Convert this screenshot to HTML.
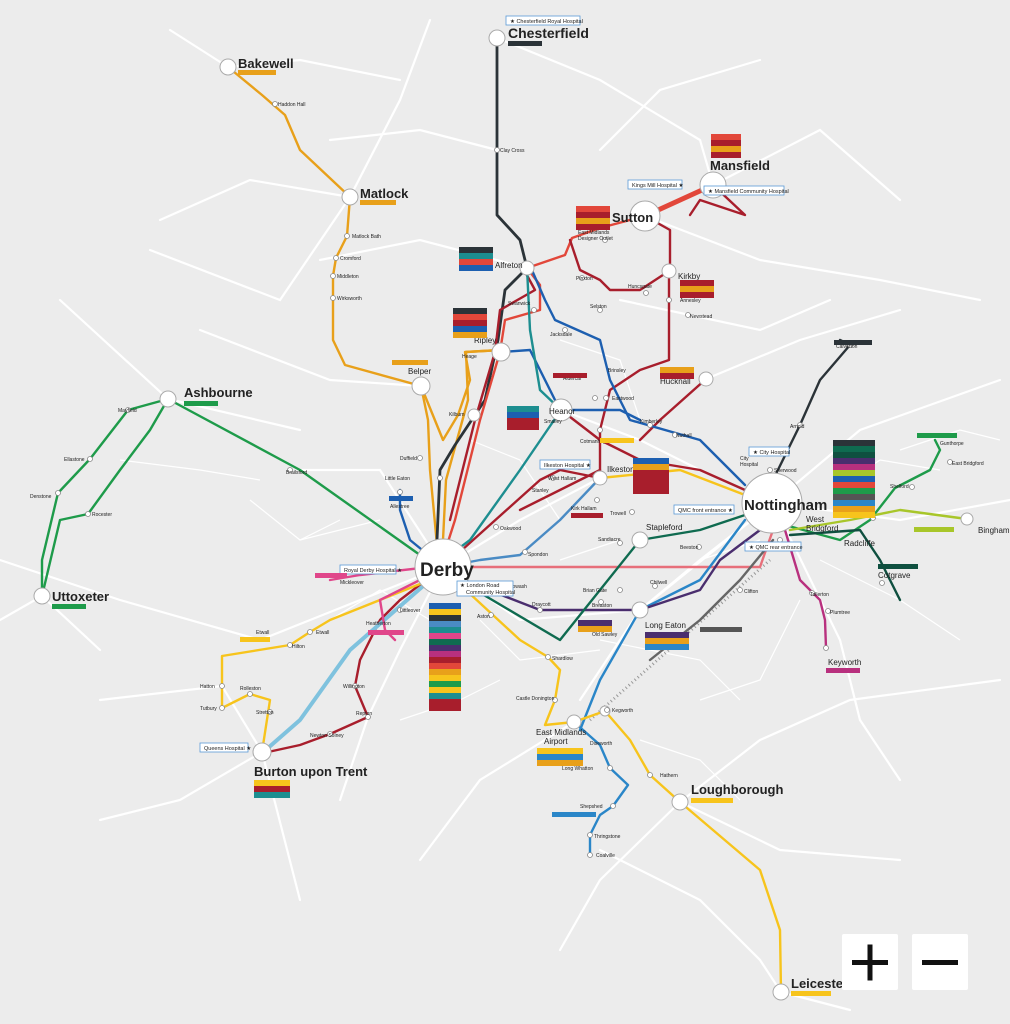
<!DOCTYPE html>
<html><head><meta charset="utf-8"><style>
html,body{margin:0;padding:0;background:#ececec;}
svg{display:block}
text{font-family:"Liberation Sans",sans-serif;fill:#222}
.s{font-size:5px;fill:#333}
.b{font-weight:bold;fill:#222}
</style></head><body>
<svg width="1010" height="1024" viewBox="0 0 1010 1024" xmlns="http://www.w3.org/2000/svg">
<rect width="1010" height="1024" fill="#ececec"/>
<!-- roads -->
<g stroke="#fff" stroke-width="2.2" fill="none" stroke-linecap="round">
<path d="M0 560 L120 600 L260 640 L443 567"/>
<path d="M60 300 L168 399 L300 430"/>
<path d="M100 700 L222 686 L262 752 L300 900"/>
<path d="M150 250 L280 300 L350 197 L400 100 L430 20"/>
<path d="M228 67 L170 30 M228 67 L300 60 L400 80"/>
<path d="M497 38 L600 80 L700 140 L713 185 L820 130 L900 200"/>
<path d="M350 197 L250 180 L160 220"/>
<path d="M421 386 L330 380 L200 330"/>
<path d="M443 567 L380 470 L300 470 L168 399"/>
<path d="M443 567 L520 620 L640 610 L773 503"/>
<path d="M773 503 L860 430 L1000 380"/>
<path d="M773 503 L900 520 L1010 500"/>
<path d="M773 503 L840 640 L860 720 L900 780"/>
<path d="M680 802 L760 740 L850 700 L1000 680"/>
<path d="M680 802 L600 880 L560 950"/>
<path d="M680 802 L780 850 L900 860"/>
<path d="M574 722 L480 780 L420 860"/>
<path d="M443 567 L400 650 L368 717 L340 800"/>
<path d="M645 216 L760 260 L880 280 L980 300"/>
<path d="M706 379 L800 340 L900 310"/>
<path d="M527 268 L420 240 L320 260"/>
<path d="M600 478 L520 520 L443 567"/>
<path d="M561 410 L640 440 L700 470"/>
<path d="M773 503 L700 560 L640 610 L580 700"/>
<path d="M262 752 L180 800 L100 820"/>
<path d="M42 596 L0 620 M42 596 L100 650"/>
<path d="M600 850 L700 900 L760 960 L781 992 L850 1010"/>
<path d="M620 300 L760 330 L830 300"/>
<path d="M497 150 L420 130 L330 140"/>
<path d="M600 150 L660 90 L760 60"/>
</g>
<g stroke="#fff" stroke-width="1.2" fill="none">
<path d="M820 560 L900 600 L960 640 M800 600 L760 680 L700 700 M900 450 L960 430 L1000 440 M850 480 L880 460 L940 470"/>
<path d="M330 620 L380 590 L430 620 M300 540 L380 520 M480 620 L520 660 L600 650 M600 640 L700 660 L740 700"/>
<path d="M560 340 L620 360 L640 420 M470 440 L520 460 L560 520 M700 560 L760 540 M400 720 L460 700 L500 680"/>
<path d="M250 500 L300 540 L340 520 M120 460 L200 470 L260 480 M560 560 L620 540 M640 740 L700 760 L740 800"/>
</g>
<!-- rail -->
<path d="M590 720 L770 560" stroke="#999" stroke-width="3" fill="none" stroke-dasharray="1 3"/>
<!-- routes -->
<g fill="none" stroke-width="2.4" stroke-linejoin="round" stroke-linecap="round">
<!-- orange Bakewell-Matlock-Belper-Derby -->
<path d="M228 67 L262 95 L285 115 L300 150 L350 197 L347 236 L336 258 L333 276 L333 298 L333 340 L345 365 L421 386" stroke="#e8a01a"/>
<path d="M421 386 L428 420 L430 470 L437 545" stroke="#e8a01a"/>
<path d="M443 540 L446 480 L457 440 L468 400 L466 352 L501 350" stroke="#e8a01a"/>
<path d="M501 350 L465 352 L470 380 L458 415 L443 440 L421 386" stroke="#e8a01a"/>
<!-- green Uttoxeter-Ashbourne-Derby -->
<path d="M42 596 L42 560 L58 493 L90 459 L128 410 L168 399" stroke="#1e9b4a"/>
<path d="M42 596 L60 520 L88 514 L120 470 L150 430 L168 399" stroke="#1e9b4a"/>
<path d="M168 399 L300 470 L420 555" stroke="#1e9b4a"/>
<!-- dark Chesterfield -->
<path d="M497 38 L497 215 L520 240 L527 268 L505 290 L498 340 L485 400 L455 445 L440 470 L437 540" stroke="#2b3338" stroke-width="2.8"/>
<path d="M773 480 L800 425 L820 380 L850 345 L840 340" stroke="#2b3338"/>
<!-- red routes -->
<path d="M527 268 L565 255 L572 238 L600 228 L645 216" stroke="#e2473a"/>
<path d="M527 268 L540 285 L540 310 L505 320 L500 352 L480 420 L455 520 L447 545" stroke="#e2473a"/>
<path d="M523 268 L535 290 L500 310 L495 352 L475 420 L450 520" stroke="#a81e2c"/>
<path d="M645 216 L713 185" stroke="#e2473a" stroke-width="5"/>
<path d="M645 216 L670 230 L670 270 L669 271 L640 290 L610 290 L600 280 L580 270 L570 240" stroke="#a81e2c"/>
<path d="M669 271 L669 360 L640 370 L610 390 L600 430 L600 478" stroke="#a81e2c"/>
<path d="M713 185 L745 215 L700 200 L690 215" stroke="#a81e2c"/>
<path d="M443 567 L760 567 L773 530" stroke="#e76f7a"/>
<path d="M561 410 L600 440 L640 460 L700 470 L745 490" stroke="#a81e2c"/>
<path d="M706 379 L660 420 L640 440" stroke="#a81e2c"/>
<path d="M443 567 L400 600 L380 620 L360 660 L355 686 L368 717 L330 734 L300 745 L268 752" stroke="#a81e2c"/>
<path d="M443 567 L540 480 L560 470 L600 478 M520 510 L600 470" stroke="#a81e2c"/>
<!-- blue -->
<path d="M531 268 L545 300 L555 320 L600 340 L610 380 L630 420 L700 440 L745 485" stroke="#1d5fb0"/>
<path d="M501 352 L530 350 L560 410 L620 410 L640 420" stroke="#1d5fb0"/>
<path d="M443 567 L410 540 L400 510 L400 490" stroke="#1d5fb0"/>
<path d="M574 722 L600 745 L610 768 L628 785 L613 806 L600 815 L590 835 L590 855" stroke="#2a86c8"/>
<path d="M443 567 L480 560 L520 555 L560 520 L600 478" stroke="#4a8bc4"/>
<path d="M640 610 L700 580 L745 520" stroke="#2a86c8"/>
<path d="M580 730 L600 680 L640 610" stroke="#2a86c8"/>
<!-- teal -->
<path d="M527 268 L530 330 L540 390 L561 410 L520 470 L470 540 L450 555" stroke="#1d8e90"/>
<!-- purple -->
<path d="M450 575 L540 610 L640 610 L700 590 L720 560 L760 530" stroke="#4a2e6e"/>
<!-- green dark Derby-Nottingham -->
<path d="M450 575 L560 640 L640 540 L700 530 L760 510" stroke="#0f6b50"/>
<!-- light blue Derby-Burton -->
<path d="M430 580 L350 650 L300 720 L268 748" stroke="#7fc2de" stroke-width="4"/>
<!-- yellow -->
<path d="M455 580 L520 640 L548 657 L560 670 L555 700 L545 725 L574 722 L605 711 L630 740 L650 775 L680 802 L760 870 L780 930 L781 992" stroke="#f7c41c"/>
<path d="M430 580 L330 620 L310 632 L290 645 L222 656 L222 686 L222 708 L250 694 L270 700 L262 752" stroke="#f7c41c"/>
<path d="M600 478 L680 470 L745 495" stroke="#f7c41c"/>
<!-- pink/magenta -->
<path d="M430 567 L360 575 L330 580" stroke="#e0468a"/>
<path d="M430 575 L380 600 L385 630 L395 640" stroke="#e0468a"/>
<path d="M785 530 L800 580 L820 600 L825 620 L826 648" stroke="#b8307e"/>
<!-- Nottingham east -->
<path d="M785 525 L840 540 L870 520 L895 488 L930 470 L940 450 L935 440" stroke="#1e9b4a"/>
<path d="M790 530 L850 520 L900 510 L967 519" stroke="#a8c62a"/>
<path d="M790 535 L860 530 L880 560 L890 580 L900 600" stroke="#0f5040"/>
<!-- grey -->
<path d="M773 540 L740 580 L700 620 L650 660" stroke="#666"/>
</g>
<!-- station circles big -->
<g fill="#fff" stroke="#aaa" stroke-width="1">
<circle cx="443" cy="567" r="28"/><circle cx="772" cy="503" r="30"/>
<circle cx="497" cy="38" r="8"/><circle cx="228" cy="67" r="8"/><circle cx="350" cy="197" r="8"/>
<circle cx="168" cy="399" r="8"/><circle cx="42" cy="596" r="8"/><circle cx="262" cy="752" r="9"/>
<circle cx="713" cy="185" r="13"/><circle cx="645" cy="216" r="15"/><circle cx="680" cy="802" r="8"/>
<circle cx="781" cy="992" r="8"/><circle cx="501" cy="352" r="9"/><circle cx="421" cy="386" r="9"/>
<circle cx="561" cy="410" r="11"/><circle cx="600" cy="478" r="7"/><circle cx="640" cy="610" r="8"/>
<circle cx="706" cy="379" r="7"/><circle cx="669" cy="271" r="7"/><circle cx="527" cy="268" r="7"/>
<circle cx="574" cy="722" r="7"/><circle cx="640" cy="540" r="8"/><circle cx="967" cy="519" r="6"/>
<circle cx="605" cy="711" r="5"/><circle cx="474" cy="415" r="6"/><circle cx="602" cy="522" r="0"/>
</g>
<g fill="#fff" stroke="#888" stroke-width="0.8">
<circle cx="275" cy="104" r="2.5"/><circle cx="497" cy="150" r="2.5"/><circle cx="347" cy="236" r="2.5"/><circle cx="336" cy="258" r="2.5"/><circle cx="333" cy="276" r="2.5"/><circle cx="333" cy="298" r="2.5"/>
<circle cx="128" cy="410" r="2.5"/><circle cx="90" cy="459" r="2.5"/><circle cx="58" cy="493" r="2.5"/><circle cx="88" cy="514" r="2.5"/>
<circle cx="290" cy="470" r="2.5"/><circle cx="440" cy="478" r="2.5"/><circle cx="420" cy="458" r="2.5"/><circle cx="400" cy="492" r="2.5"/>
<circle cx="496" cy="527" r="2.5"/><circle cx="525" cy="552" r="2.5"/><circle cx="548" cy="657" r="2.5"/><circle cx="555" cy="700" r="2.5"/><circle cx="491" cy="615" r="2.5"/>
<circle cx="355" cy="686" r="2.5"/><circle cx="368" cy="717" r="2.5"/><circle cx="330" cy="734" r="2.5"/><circle cx="310" cy="632" r="2.5"/><circle cx="290" cy="645" r="2.5"/>
<circle cx="222" cy="686" r="2.5"/><circle cx="222" cy="708" r="2.5"/><circle cx="250" cy="694" r="2.5"/><circle cx="270" cy="712" r="2.5"/><circle cx="400" cy="610" r="2.5"/>
<circle cx="610" cy="768" r="2.5"/><circle cx="613" cy="806" r="2.5"/><circle cx="590" cy="835" r="2.5"/><circle cx="590" cy="855" r="2.5"/><circle cx="650" cy="775" r="2.5"/>
<circle cx="540" cy="610" r="2.5"/><circle cx="601" cy="602" r="2.5"/><circle cx="620" cy="590" r="2.5"/><circle cx="655" cy="586" r="2.5"/><circle cx="699" cy="547" r="2.5"/>
<circle cx="632" cy="512" r="2.5"/><circle cx="620" cy="543" r="2.5"/><circle cx="606" cy="398" r="2.5"/><circle cx="595" cy="398" r="2.5"/><circle cx="600" cy="430" r="2.5"/>
<circle cx="565" cy="330" r="2.5"/><circle cx="534" cy="310" r="2.5"/><circle cx="600" cy="310" r="2.5"/><circle cx="582" cy="278" r="2.5"/><circle cx="605" cy="240" r="2.5"/>
<circle cx="646" cy="293" r="2.5"/><circle cx="669" cy="300" r="2.5"/><circle cx="688" cy="315" r="2.5"/><circle cx="650" cy="425" r="2.5"/><circle cx="675" cy="435" r="2.5"/>
<circle cx="800" cy="425" r="2.5"/><circle cx="770" cy="470" r="2.5"/><circle cx="873" cy="518" r="2.5"/><circle cx="912" cy="487" r="2.5"/><circle cx="950" cy="462" r="2.5"/>
<circle cx="882" cy="583" r="2.5"/><circle cx="812" cy="593" r="2.5"/><circle cx="828" cy="611" r="2.5"/><circle cx="826" cy="648" r="2.5"/><circle cx="740" cy="590" r="2.5"/><circle cx="780" cy="540" r="2.5"/>
<circle cx="850" cy="345" r="2.5"/><circle cx="553" cy="478" r="2.5"/><circle cx="597" cy="500" r="2.5"/><circle cx="607" cy="710" r="2.5"/>
</g>
<!-- big labels -->
<g class="b">
<text x="420" y="576" font-size="19">Derby</text>
<text x="744" y="510" font-size="15">Nottingham</text>
<text x="508" y="38" font-size="14">Chesterfield</text>
<text x="238" y="68" font-size="13">Bakewell</text>
<text x="360" y="198" font-size="13">Matlock</text>
<text x="184" y="397" font-size="13">Ashbourne</text>
<text x="52" y="601" font-size="13">Uttoxeter</text>
<text x="254" y="776" font-size="13">Burton upon Trent</text>
<text x="710" y="170" font-size="13">Mansfield</text>
<text x="612" y="222" font-size="13">Sutton</text>
<text x="691" y="794" font-size="13">Loughborough</text>
<text x="791" y="988" font-size="13">Leicester</text>
</g>
<g font-size="8">
<text x="474" y="343">Ripley</text><text x="408" y="374">Belper</text><text x="549" y="414">Heanor</text>
<text x="607" y="472">Ilkeston</text><text x="645" y="628">Long Eaton</text><text x="660" y="384">Hucknall</text>
<text x="678" y="279">Kirkby</text><text x="495" y="268">Alfreton</text><text x="646" y="530">Stapleford</text>
<text x="536" y="735">East Midlands</text><text x="544" y="744">Airport</text><text x="978" y="533">Bingham</text>
<text x="878" y="578">Cotgrave</text><text x="828" y="665">Keyworth</text><text x="844" y="546">Radcliffe</text>
<text x="806" y="522">West</text><text x="806" y="531">Bridgford</text>
</g>
<g class="s">
<text x="278" y="106">Haddon Hall</text><text x="500" y="152">Clay Cross</text><text x="352" y="238">Matlock Bath</text><text x="340" y="260">Cromford</text>
<text x="337" y="278">Middleton</text><text x="337" y="300">Wirksworth</text><text x="118" y="412">Mayfield</text><text x="64" y="461">Ellastone</text>
<text x="30" y="498">Denstone</text><text x="92" y="516">Rocester</text><text x="286" y="474">Brailsford</text><text x="385" y="480">Little Eaton</text>
<text x="400" y="460">Duffield</text><text x="500" y="530">Oakwood</text><text x="528" y="556">Spondon</text><text x="552" y="660">Shardlow</text>
<text x="516" y="700">Castle Donington</text><text x="477" y="618">Aston</text><text x="343" y="688">Willington</text><text x="356" y="715">Repton</text>
<text x="310" y="737">Newton Solney</text><text x="316" y="634">Etwall</text><text x="292" y="648">Hilton</text><text x="200" y="688">Hatton</text>
<text x="200" y="710">Tutbury</text><text x="240" y="690">Rolleston</text><text x="256" y="714">Stretton</text><text x="400" y="612">Littleover</text>
<text x="366" y="625">Heatherton</text><text x="562" y="770">Long Whatton</text><text x="580" y="808">Shepshed</text><text x="594" y="838">Thringstone</text>
<text x="596" y="857">Coalville</text><text x="660" y="777">Hathern</text><text x="612" y="712">Kegworth</text><text x="590" y="745">Diseworth</text>
<text x="532" y="606">Draycott</text><text x="592" y="607">Breaston</text><text x="592" y="636">Old Sawley</text><text x="650" y="584">Chilwell</text>
<text x="680" y="549">Beeston</text><text x="610" y="515">Trowell</text><text x="598" y="541">Sandiacre</text><text x="571" y="510">Kirk Hallam</text>
<text x="532" y="492">Stanley</text><text x="548" y="480">West Hallam</text><text x="544" y="423">Smalley</text><text x="580" y="443">Cotmanhay</text>
<text x="612" y="400">Eastwood</text><text x="608" y="372">Brinsley</text><text x="563" y="380">Aldercar</text><text x="550" y="336">Jacksdale</text>
<text x="508" y="305">Swanwick</text><text x="590" y="308">Selston</text><text x="576" y="280">Pinxton</text><text x="578" y="234">East Midlands</text>
<text x="578" y="240">Designer Outlet</text><text x="628" y="288">Huncsgate</text><text x="680" y="302">Annesley</text><text x="690" y="318">Newstead</text>
<text x="640" y="423">Kimberley</text><text x="676" y="437">Nuthall</text><text x="790" y="428">Arnold</text><text x="836" y="348">Calverton</text>
<text x="774" y="472">Sherwood</text><text x="740" y="460">City</text><text x="740" y="466">Hospital</text><text x="890" y="488">Shelford</text>
<text x="940" y="445">Gunthorpe</text><text x="952" y="465">East Bridgford</text><text x="810" y="596">Tollerton</text><text x="830" y="614">Plumtree</text>
<text x="744" y="593">Clifton</text><text x="449" y="416">Kilburn</text><text x="462" y="358">Heage</text><text x="390" y="508">Allestree</text>
<text x="440" y="616">Alvaston</text><text x="503" y="588">Borrowash</text><text x="583" y="592">Brian Gate</text><text x="340" y="584">Mickleover</text>
<text x="256" y="634">Etwall</text><text x="485" y="588">Ockbrook</text>
</g>
<!-- hospital boxes -->
<g font-size="5.5" fill="#1d5fb0">
<rect x="506" y="16" width="74" height="9" fill="#fff" stroke="#5a9ad6" stroke-width="0.8"/><text x="510" y="23" fill="#1d5fb0">★ Chesterfield Royal Hospital</text>
<rect x="628" y="180" width="54" height="9" fill="#fff" stroke="#5a9ad6" stroke-width="0.8"/><text x="632" y="187" fill="#1d5fb0">Kings Mill Hospital ★</text>
<rect x="704" y="186" width="80" height="9" fill="#fff" stroke="#5a9ad6" stroke-width="0.8"/><text x="708" y="193" fill="#1d5fb0">★ Mansfield Community Hospital</text>
<rect x="749" y="447" width="40" height="9" fill="#fff" stroke="#5a9ad6" stroke-width="0.8"/><text x="753" y="454" fill="#1d5fb0">★ City Hospital</text>
<rect x="540" y="460" width="50" height="9" fill="#fff" stroke="#5a9ad6" stroke-width="0.8"/><text x="544" y="467" fill="#1d5fb0">Ilkeston Hospital ★</text>
<rect x="674" y="505" width="60" height="9" fill="#fff" stroke="#5a9ad6" stroke-width="0.8"/><text x="678" y="512" fill="#1d5fb0">QMC front entrance ★</text>
<rect x="745" y="542" width="56" height="9" fill="#fff" stroke="#5a9ad6" stroke-width="0.8"/><text x="749" y="549" fill="#1d5fb0">★ QMC rear entrance</text>
<rect x="340" y="565" width="56" height="9" fill="#fff" stroke="#5a9ad6" stroke-width="0.8"/><text x="344" y="572" fill="#1d5fb0">Royal Derby Hospital ★</text>
<rect x="457" y="581" width="56" height="15" fill="#fff" stroke="#5a9ad6" stroke-width="0.8"/><text x="460" y="587" fill="#1d5fb0">★ London Road</text><text x="466" y="594" fill="#1d5fb0">Community Hospital</text>
<rect x="200" y="743" width="48" height="9" fill="#fff" stroke="#5a9ad6" stroke-width="0.8"/><text x="204" y="750" fill="#1d5fb0">Queens Hospital ★</text>
</g>
<!-- route label boxes -->
<g>
<rect x="238" y="70" width="38" height="5" fill="#e8a01a"/>
<rect x="360" y="200" width="36" height="5" fill="#e8a01a"/>
<rect x="184" y="401" width="34" height="5" fill="#1e9b4a"/>
<rect x="52" y="604" width="34" height="5" fill="#1e9b4a"/>
<rect x="508" y="41" width="34" height="5" fill="#2b3338"/>
<rect x="711" y="134" width="30" height="6" fill="#e2473a"/><rect x="711" y="140" width="30" height="6" fill="#a81e2c"/><rect x="711" y="146" width="30" height="6" fill="#e8a01a"/><rect x="711" y="152" width="30" height="6" fill="#a81e2c"/>
<rect x="576" y="206" width="34" height="6" fill="#e2473a"/><rect x="576" y="212" width="34" height="6" fill="#a81e2c"/><rect x="576" y="218" width="34" height="6" fill="#e8a01a"/><rect x="576" y="224" width="34" height="6" fill="#a81e2c"/>
<rect x="459" y="247" width="34" height="6" fill="#2b3338"/><rect x="459" y="253" width="34" height="6" fill="#1d8e90"/><rect x="459" y="259" width="34" height="6" fill="#e2473a"/><rect x="459" y="265" width="34" height="6" fill="#1d5fb0"/>
<rect x="453" y="308" width="34" height="6" fill="#2b3338"/><rect x="453" y="314" width="34" height="6" fill="#e2473a"/><rect x="453" y="320" width="34" height="6" fill="#a81e2c"/><rect x="453" y="326" width="34" height="6" fill="#1d5fb0"/><rect x="453" y="332" width="34" height="6" fill="#e8a01a"/>
<rect x="680" y="280" width="34" height="6" fill="#a81e2c"/><rect x="680" y="286" width="34" height="6" fill="#e8a01a"/><rect x="680" y="292" width="34" height="6" fill="#a81e2c"/>
<rect x="660" y="367" width="34" height="6" fill="#e8a01a"/><rect x="660" y="373" width="34" height="6" fill="#a81e2c"/>
<rect x="507" y="406" width="32" height="6" fill="#1d8e90"/><rect x="507" y="412" width="32" height="6" fill="#1d5fb0"/><rect x="507" y="418" width="32" height="6" fill="#a81e2c"/><rect x="507" y="424" width="32" height="6" fill="#a81e2c"/>
<rect x="553" y="373" width="34" height="5" fill="#a81e2c"/>
<rect x="600" y="438" width="34" height="5" fill="#f7c41c"/>
<rect x="633" y="458" width="36" height="6" fill="#1d5fb0"/><rect x="633" y="464" width="36" height="6" fill="#e8a01a"/><rect x="633" y="470" width="36" height="6" fill="#a81e2c"/><rect x="633" y="476" width="36" height="6" fill="#a81e2c"/><rect x="633" y="482" width="36" height="6" fill="#a81e2c"/><rect x="633" y="488" width="36" height="6" fill="#a81e2c"/>
<rect x="571" y="513" width="32" height="5" fill="#a81e2c"/>
<rect x="392" y="360" width="36" height="5" fill="#e8a01a"/>
<rect x="389" y="496" width="24" height="5" fill="#1d5fb0"/>
<rect x="315" y="573" width="32" height="5" fill="#e0468a"/>
<rect x="368" y="630" width="36" height="5" fill="#e0468a"/>
<rect x="240" y="637" width="30" height="5" fill="#f7c41c"/>
<rect x="254" y="780" width="36" height="6" fill="#f7c41c"/><rect x="254" y="786" width="36" height="6" fill="#a81e2c"/><rect x="254" y="792" width="36" height="6" fill="#1d8e90"/>
<rect x="578" y="620" width="34" height="6" fill="#4a2e6e"/><rect x="578" y="626" width="34" height="6" fill="#e8a01a"/>
<rect x="645" y="632" width="44" height="6" fill="#4a2e6e"/><rect x="645" y="638" width="44" height="6" fill="#e8a01a"/><rect x="645" y="644" width="44" height="6" fill="#2a86c8"/>
<rect x="700" y="627" width="42" height="5" fill="#555"/>
<rect x="537" y="748" width="46" height="6" fill="#f7c41c"/><rect x="537" y="754" width="46" height="6" fill="#2a86c8"/><rect x="537" y="760" width="46" height="6" fill="#e8a01a"/>
<rect x="552" y="812" width="44" height="5" fill="#2a86c8"/>
<rect x="691" y="798" width="42" height="5" fill="#f7c41c"/>
<rect x="791" y="991" width="40" height="5" fill="#f7c41c"/>
<rect x="826" y="668" width="34" height="5" fill="#b8307e"/>
<rect x="878" y="564" width="40" height="5" fill="#0f5040"/>
<rect x="914" y="527" width="40" height="5" fill="#a8c62a"/>
<rect x="917" y="433" width="40" height="5" fill="#1e9b4a"/>
<rect x="834" y="340" width="38" height="5" fill="#2b3338"/>
<rect x="833" y="440" width="42" height="6" fill="#2b3338"/><rect x="833" y="446" width="42" height="6" fill="#0f6b50"/><rect x="833" y="452" width="42" height="6" fill="#0f5040"/><rect x="833" y="458" width="42" height="6" fill="#4a2e6e"/><rect x="833" y="464" width="42" height="6" fill="#b8307e"/><rect x="833" y="470" width="42" height="6" fill="#a8c62a"/><rect x="833" y="476" width="42" height="6" fill="#1d5fb0"/><rect x="833" y="482" width="42" height="6" fill="#e2473a"/><rect x="833" y="488" width="42" height="6" fill="#1e9b4a"/><rect x="833" y="494" width="42" height="6" fill="#555"/><rect x="833" y="500" width="42" height="6" fill="#2a86c8"/><rect x="833" y="506" width="42" height="6" fill="#e8a01a"/><rect x="833" y="512" width="42" height="6" fill="#f7c41c"/>
<g transform="translate(429,603)">
<rect y="0" width="32" height="6" fill="#1d5fb0"/><rect y="6" width="32" height="6" fill="#f7c41c"/><rect y="12" width="32" height="6" fill="#2b3338"/><rect y="18" width="32" height="6" fill="#4a8bc4"/><rect y="24" width="32" height="6" fill="#1d8e90"/><rect y="30" width="32" height="6" fill="#e0468a"/><rect y="36" width="32" height="6" fill="#0f6b50"/><rect y="42" width="32" height="6" fill="#4a2e6e"/><rect y="48" width="32" height="6" fill="#b8307e"/><rect y="54" width="32" height="6" fill="#a81e2c"/><rect y="60" width="32" height="6" fill="#e2473a"/><rect y="66" width="32" height="6" fill="#e8a01a"/><rect y="72" width="32" height="6" fill="#f7c41c"/><rect y="78" width="32" height="6" fill="#1e9b4a"/><rect y="84" width="32" height="6" fill="#f7c41c"/><rect y="90" width="32" height="6" fill="#1d8e90"/><rect y="96" width="32" height="6" fill="#a81e2c"/><rect y="102" width="32" height="6" fill="#a81e2c"/>
</g>
</g>
<!-- zoom buttons -->
<g>
<rect x="842" y="934" width="56" height="56" fill="#fff" rx="2"/>
<rect x="912" y="934" width="56" height="56" fill="#fff" rx="2"/>
<rect x="852" y="960" width="36" height="5" fill="#111"/><rect x="867.5" y="944.5" width="5" height="36" fill="#111"/>
<rect x="922" y="960" width="36" height="5" fill="#111"/>
</g>
</svg>
</body></html>
